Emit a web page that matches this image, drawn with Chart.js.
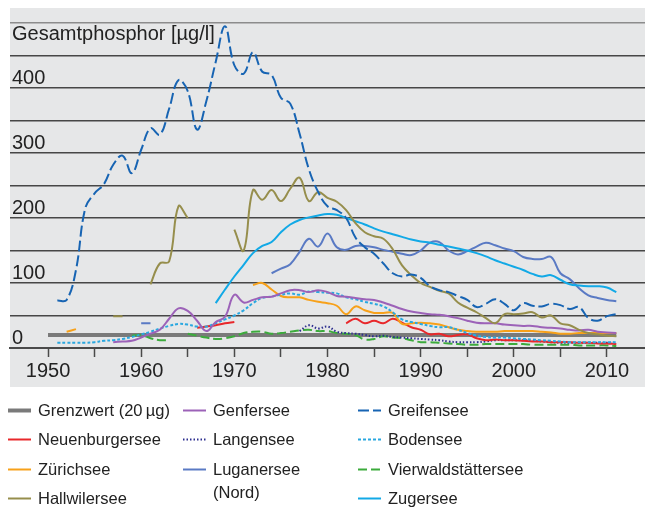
<!DOCTYPE html>
<html lang="de">
<head>
<meta charset="UTF-8">
<title>Gesamtphosphor</title>
<script src="https://cdn.jsdelivr.net/npm/chart.js"></script>
<style>
  body { margin: 0; background: #fff; }
  .wrap { position: relative; width: 645px; height: 509px; }
  #legende { position: absolute; left: 0; top: 0; font-family: "Liberation Sans", Arial, sans-serif; font-size: 16.5px; color: #222; }
  #legende .item { position: absolute; line-height: 23px; white-space: pre; }
  #legende svg { position: absolute; left: 0; top: 8px; }
  #legende span { position: absolute; left: 30px; top: 0; }
</style>
</head>
<body>
<div class="wrap">
  <canvas id="chart" width="645" height="509"></canvas>
  <div id="legende"></div>
</div>

<script>
// Achsen
const yTicks = [0, 50, 100, 150, 200, 250, 300, 350, 400, 450, 500];
const yBeschriftung = { 0: '0', 100: '100', 200: '200', 300: '300', 400: '400' };
const yTitel = 'Gesamtphosphor [µg/l]';
const xTicks = [1950, 1955, 1960, 1965, 1970, 1975, 1980, 1985, 1990, 1995, 2000, 2005, 2010];

// Werte in µg/l, je Jahr ab dem Startjahr
const grenzwertJahre = [1950, 2011];
const grenzwert = [20, 20];

const greifenseeStart = 1951;
const greifensee = [73, 74, 120, 215, 238, 252, 282, 296, 269, 305, 338, 328, 368, 412, 395, 336, 380, 440, 495, 435, 422, 455, 425, 420, 385, 376, 330, 275, 240, 218, 212, 200, 170, 155, 145, 130, 115, 110, 113, 108, 95, 89, 86, 80, 74, 63, 68, 75, 68, 58, 69, 65, 64, 68, 66, 60, 63, 46, 42, 49, 52];

const hallwilerseeA = [49, 49];            // ab 1957
const hallwilerseeB = [98, 130, 133, 218, 200];   // ab 1961
const hallwilerseeC = [182, 150, 243, 228, 243, 226, 245, 262, 226, 240, 231, 225, 212, 192, 178, 172, 168, 152, 127, 112, 100, 94, 88, 84, 70, 62, 55, 46, 38, 52, 52, 53, 55, 47, 50, 38, 35, 28, 23, 21, 19, 18]; // ab 1970

const zugerseeStart = 1968;
const zugersee = [69, 90, 110, 128, 146, 157, 163, 178, 190, 197, 201, 204, 206, 205, 200, 195, 190, 184, 179, 175, 171, 167, 164, 162, 159, 156, 153, 150, 146, 141, 135, 130, 125, 120, 114, 110, 112, 105, 98, 96, 95, 95, 93, 86];

const luganerseeA = [38, 38];  // ab 1960
const luganerseeB = [115, 122, 129, 148, 168, 156, 176, 155, 151, 157, 157, 155, 151, 148, 145, 143, 150, 162, 163, 150, 144, 149, 156, 162, 158, 153, 149, 140, 137, 137, 140, 115, 106, 92, 81, 77, 74, 72]; // ab 1974

const genferseeStart = 1957;
const genfersee = [9, 10, 11, 16, 22, 28, 45, 61, 57, 42, 26, 40, 48, 82, 70, 74, 78, 79, 84, 89, 89, 86, 89, 86, 80, 79, 77, 75, 74, 70, 65, 60, 56, 54, 52, 51, 49, 46, 42, 39, 38, 38, 36, 35, 34, 34, 32, 31, 30, 28, 27, 28, 25, 24, 23];

const bodenseeStart = 1951;
const bodensee = [8, 8, 8, 8, 9, 11, 12, 14, 17, 21, 25, 30, 34, 37, 36, 33, 33, 38, 44, 50, 58, 69, 77, 79, 82, 84, 82, 87, 86, 85, 84, 78, 75, 71, 68, 64, 55, 44, 40, 37, 34, 32, 32, 28, 23, 19, 17, 16, 16, 15, 14, 13, 12, 11, 10, 9, 9, 9, 9, 9, 9];

const zuerichseeA = [25, 29];  // ab 1952
const zuerichseeB = [97, 100, 90, 80, 78, 78, 74, 71, 69, 65, 52, 64, 58, 54, 54, 54, 37, 38, 39, 38, 36, 32, 28, 26, 25, 25, 25, 26, 26, 26, 26, 25, 24, 22, 22, 23, 23, 23, 23, 23]; // ab 1972

const neuenburgerseeA = [31, 33, 35, 38, 40];  // ab 1966
const neuenburgerseeB = [38, 45, 38, 42, 38, 45, 39, 32, 28, 21, 22, 18, 20, 21, 15, 12, 13, 12, 12, 11, 10, 10, 9, 9, 9, 8, 8, 7, 7, 6]; // ab 1982

const langenseeStart = 1977;
const langensee = [26, 35, 30, 33, 25, 23, 22, 20, 18, 19, 17, 16, 15, 14, 13, 12, 10, 9, 9, 9, 10, 12, 12, 12, 12, 11, 10, 9, 8, 8, 8, 8, 8, 8, 8];

const vierwaldA = [19, 20, 15, 12, 12];  // ab 1959
const vierwaldB = [22, 19, 16, 14, 15, 18, 23, 25, 25, 22, 23, 25, 27, 28, 26, 26, 23, 22, 20, 13, 14, 18, 16, 15, 12, 9, 9, 8, 7, 6, 5, 5, 6, 6, 6, 6, 6, 5, 5, 5, 5, 5, 4, 4, 4, 4, 3]; // ab 1965

// Hilfsfunktionen: Jahreswerte -> Punkte, Lücken zwischen Abschnitten
function abschnitt(start, werte) {
  return werte.map((v, i) => ({ x: start + i, y: v }));
}
function verbinde(...teile) {
  const out = [];
  teile.forEach((t, k) => {
    if (k > 0) out.push({ x: t[0].x - 0.5, y: null });
    out.push(...t);
  });
  return out;
}

const datasets = [
  { label: 'Greifensee', data: abschnitt(greifenseeStart, greifensee),
    borderColor: '#1764b3', borderDash: [11, 4], spalte: 2, zeile: 0 },
  { label: 'Hallwilersee', data: verbinde(abschnitt(1957, hallwilerseeA), abschnitt(1961, hallwilerseeB), abschnitt(1970, hallwilerseeC)),
    borderColor: '#968e4c', spalte: 0, zeile: 3 },
  { label: 'Zugersee', data: abschnitt(zugerseeStart, zugersee),
    borderColor: '#12a9e6', spalte: 2, zeile: 3 },
  { label: 'Luganersee\n(Nord)', data: verbinde(abschnitt(1960, luganerseeA), abschnitt(1974, luganerseeB)),
    borderColor: '#5a7ac4', spalte: 1, zeile: 2 },
  { label: 'Genfersee', data: abschnitt(genferseeStart, genfersee),
    borderColor: '#9c62b8', spalte: 1, zeile: 0 },
  { label: 'Bodensee', data: abschnitt(bodenseeStart, bodensee),
    borderColor: '#2aa8e0', borderDash: [3, 2], spalte: 2, zeile: 1 },
  { label: 'Zürichsee', data: verbinde(abschnitt(1952, zuerichseeA), abschnitt(1972, zuerichseeB)),
    borderColor: '#f7a11a', spalte: 0, zeile: 2 },
  { label: 'Neuenburgersee', data: verbinde(abschnitt(1966, neuenburgerseeA), abschnitt(1982, neuenburgerseeB)),
    borderColor: '#e8282b', spalte: 0, zeile: 1 },
  { label: 'Langensee', data: abschnitt(langenseeStart, langensee),
    borderColor: '#2d2f8f', borderDash: [1.5, 2], spalte: 1, zeile: 1 },
  { label: 'Vierwaldstättersee', data: verbinde(abschnitt(1959, vierwaldA), abschnitt(1965, vierwaldB)),
    borderColor: '#3cab3c', borderDash: [9, 4], spalte: 2, zeile: 2 },
  { label: 'Grenzwert (20\u2009µg)', data: grenzwertJahre.map((j, i) => ({ x: j, y: grenzwert[i] })),
    borderColor: '#7a7a7a', borderWidth: 4, tension: 0, order: 1, spalte: 0, zeile: 0 }
];

// grauer Hintergrund hinter dem Diagramm
const hintergrund = {
  id: 'hintergrund',
  beforeDraw(chart) {
    const { ctx, chartArea: a } = chart;
    ctx.save();
    ctx.fillStyle = '#e6e7e8';
    ctx.fillRect(a.left, a.top - 15, a.right - a.left, a.bottom - a.top + 54);
    ctx.restore();
  }
};

Chart.defaults.font.family = '"Liberation Sans", Arial, sans-serif';
Chart.defaults.color = '#222';

new Chart(document.getElementById('chart'), {
  type: 'line',
  data: { datasets: datasets },
  options: {
    responsive: false,
    animation: false,
    layout: { padding: { left: 10, right: 0, top: 23, bottom: 122 } },
    plugins: { legend: { display: false }, tooltip: { enabled: false } },
    elements: {
      point: { radius: 0 },
      line: { tension: 0.4, borderWidth: 2, fill: false }
    },
    scales: {
      x: {
        type: 'linear',
        min: 1945.92,
        max: 2014.08,
        afterBuildTicks: (s) => { s.ticks = xTicks.map((v) => ({ value: v })); },
        afterFit: (s) => { s.height = 39; },
        grid: { drawOnChartArea: false, drawTicks: true, tickLength: 9, tickWidth: 1.5, tickColor: '#4a4a4a' },
        border: { display: true, color: '#4a4a4a', width: 2 },
        ticks: {
          autoSkip: false, maxRotation: 0, padding: 2,
          font: { size: 20 },
          callback: (v) => (v % 10 === 0 ? String(v) : '')
        }
      },
      y: {
        min: 0,
        max: 500,
        afterBuildTicks: (s) => { s.ticks = yTicks.map((v) => ({ value: v })); },
        afterFit: (s) => { s.width = 0; },
        grid: {
          drawTicks: false, lineWidth: 1.5,
          color: (c) => (c.tick && c.tick.value === 500 ? '#8c8c8c' : '#474747')
        },
        border: { display: false },
        ticks: {
          autoSkip: false, mirror: true, padding: 2, labelOffset: -10,
          font: { size: 20, lineHeight: 1.1 },
          callback: (v) => {
            if (v === 450) return [yTitel, ''];
            return yBeschriftung[v] || '';
          }
        }
      }
    }
  },
  plugins: [hintergrund]
});

// Legende in drei Spalten
const legende = document.getElementById('legende');
datasets.forEach((ds) => {
  const item = document.createElement('div');
  item.className = 'item';
  item.style.left = (8 + ds.spalte * 175) + 'px';
  item.style.top = (398.5 + ds.zeile * 29.5) + 'px';
  const dash = ds.borderDash ? ds.borderDash.join(' ') : 'none';
  item.innerHTML = '<svg width="23" height="7"><line x1="0" y1="3.5" x2="23" y2="3.5" stroke="' + ds.borderColor +
    '" stroke-width="' + (ds.borderWidth || 2) + '" stroke-dasharray="' + dash + '"/></svg>';
  const text = document.createElement('span');
  text.textContent = ds.label;
  item.appendChild(text);
  legende.appendChild(item);
});
</script>
</body>
</html>
